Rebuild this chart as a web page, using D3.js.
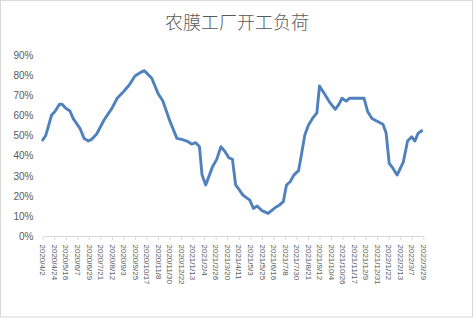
<!DOCTYPE html>
<html>
<head>
<meta charset="utf-8">
<script src="https://cdn.jsdelivr.net/npm/d3@7"></script>
<style>
  html, body { margin: 0; padding: 0; background: #fff; }
  svg { display: block; }
</style>
</head>
<body>
<svg id="chart" width="474" height="318"></svg>
<script>
const title = "农膜工厂开工负荷";
const dates = [
  "2020-04-02","2020-04-08","2020-04-19","2020-04-25","2020-05-04","2020-05-09","2020-05-16","2020-05-24","2020-05-30","2020-06-12",
  "2020-06-20","2020-06-28","2020-07-04","2020-07-14","2020-07-28","2020-08-12","2020-08-22","2020-09-03","2020-09-14","2020-09-25",
  "2020-10-05","2020-10-13","2020-10-27","2020-11-08","2020-11-17","2020-12-01","2020-12-14","2020-12-23","2021-01-02","2021-01-11",
  "2021-01-19","2021-01-26","2021-01-31","2021-02-07","2021-02-20","2021-02-28","2021-03-08","2021-03-16","2021-03-23","2021-03-30",
  "2021-04-05","2021-04-10","2021-04-19","2021-05-02","2021-05-09","2021-05-16","2021-05-25","2021-06-06","2021-06-19","2021-06-27",
  "2021-07-05","2021-07-11","2021-07-18","2021-07-25","2021-08-03","2021-08-09","2021-08-15","2021-08-22","2021-08-30","2021-09-07",
  "2021-09-12","2021-09-22","2021-10-02","2021-10-12","2021-10-19","2021-10-25","2021-11-02","2021-11-08","2021-12-06","2021-12-13",
  "2021-12-21","2021-12-30","2022-01-11","2022-01-17","2022-01-23","2022-01-30","2022-02-07","2022-02-19","2022-02-27","2022-03-07",
  "2022-03-13","2022-03-19","2022-03-26"
];
const loadRate = [
  47.6,50,60,61.6,65.3,65.3,63.3,62,58.3,53.4,
  48.4,47.1,47.9,50.6,57.5,63.3,68.3,71.5,74.9,79.3,
  81,82,78.2,70.7,67.1,56.7,48.4,47.9,47.1,45.6,
  46.3,44.3,30.2,25.3,34.4,38,44.3,41.8,38.8,38,
  25.3,23.6,20.3,17.8,13.7,14.9,12.6,11.2,14.0,15.2,
  17.0,25.3,26.9,30.2,32.4,41,50.1,55,58.4,61.1,
  74.4,70.3,66.1,62.8,65.3,68.3,66.9,68.3,68.3,61.6,
  58.3,57,55.4,51.2,36,33.6,30.2,36.8,47.1,49.2,
  47.1,50.9,52.2
];
const xTickLabels = [
  "2020/4/2","2020/4/24","2020/5/16","2020/6/7","2020/6/29","2020/7/21","2020/8/12","2020/9/3","2020/9/25","2020/10/17",
  "2020/11/8","2020/11/30","2020/12/22","2021/1/13","2021/2/4","2021/2/26","2021/3/20","2021/4/11","2021/5/3","2021/5/25",
  "2021/6/16","2021/7/8","2021/7/30","2021/8/21","2021/9/12","2021/10/4","2021/10/26","2021/11/17","2021/12/9","2021/12/31",
  "2022/1/22","2022/2/13","2022/3/7","2022/3/29"
];
const yTicks = [0,10,20,30,40,50,60,70,80,90];

(function () {
  const parseD = d3.timeParse("%Y-%m-%d");
  const parseT = d3.timeParse("%Y/%m/%d");
  const data = dates.map((d, i) => ({ date: parseD(d), value: loadRate[i] }));
  const tickDates = xTickLabels.map(parseT);

  const svg = d3.select("#chart");
  const mLeft = 42.7, mRight = 423.3, mTop = 54.5, mBottom = 236;

  svg.append("rect").attr("x", 0.5).attr("y", 0.5).attr("width", 472).attr("height", 316.5)
    .attr("fill", "#fff").attr("stroke", "#d9d9d9").attr("stroke-width", 1);

  const x = d3.scaleTime().domain([tickDates[0], tickDates[tickDates.length - 1]]).range([mLeft, mRight]);
  const y = d3.scaleLinear().domain([0, 90]).range([mBottom, mTop]);

  svg.append("text").attr("x", 237).attr("y", 28.5).attr("text-anchor", "middle")
    .attr("font-family", "'Noto Sans CJK SC', sans-serif").attr("font-weight", 300)
    .attr("font-size", 18).attr("fill", "#595959").text(title);

  const yAxis = d3.axisLeft(y).tickValues(yTicks).tickSize(0).tickPadding(0).tickFormat(d => d + "%");
  const gy = svg.append("g").attr("transform", "translate(33.5,0)").call(yAxis);
  gy.select(".domain").remove();
  gy.selectAll("text").attr("font-family", "'Liberation Sans', Arial, sans-serif")
    .attr("font-size", 10).attr("fill", "#595959").attr("dy", "0.35em").attr("x", 0);

  const xAxis = d3.axisBottom(x).tickValues(tickDates).tickSize(4).tickSizeOuter(0).tickFormat((d, i) => xTickLabels[i]);
  const gx = svg.append("g").attr("transform", `translate(0,${mBottom})`).call(xAxis);
  gx.select(".domain").attr("stroke", "#d9d9d9");
  gx.selectAll(".tick line").attr("stroke", "#d9d9d9");
  gx.selectAll(".tick text")
    .attr("font-family", "'Liberation Sans', Arial, sans-serif")
    .attr("font-size", 8).attr("fill", "#595959")
    .attr("text-anchor", "start")
    .attr("transform", "rotate(90)")
    .attr("x", 8.5).attr("y", 0).attr("dy", "0.35em");

  const line = d3.line().x(d => x(d.date)).y(d => y(d.value));
  svg.append("path").datum(data).attr("d", line)
    .attr("fill", "none").attr("stroke", "#4F81BD").attr("stroke-width", 2.9)
    .attr("stroke-linejoin", "round").attr("stroke-linecap", "round");
})();
</script>
</body>
</html>
